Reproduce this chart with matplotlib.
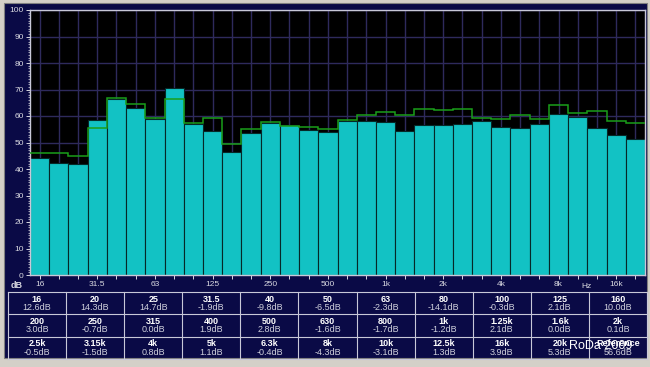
import numpy as np
import matplotlib
matplotlib.use('Agg')
import matplotlib.pyplot as plt
from matplotlib.patches import Rectangle

plt.rcParams['font.family'] = ['Liberation Sans', 'DejaVu Sans']

# 1/3 octave bands and data
bands = ['16', '20', '25', '31.5', '40', '50', '63', '80', '100', '125', '160',
         '200', '250', '315', '400', '500', '630', '800', '1k', '1.25k', '1.6k',
         '2k', '2.5k', '3.15k', '4k', '5k', '6.3k', '8k', '10k', '12.5k', '16k', '20k']
# correction per band from the table below the chart
corr_db = [12.6, 14.3, 14.7, -1.9, -9.8, -6.5, -2.3, -14.1, -0.3, 2.1, 10.0,
           3.0, -0.7, 0.0, 1.9, 2.8, -1.6, -1.7, -1.2, 2.1, 0.0,
           0.1, -0.5, -1.5, 0.8, 1.1, -0.4, -4.3, -3.1, 1.3, 3.9, 5.3]
ref_db = 56.6
# measured level (cyan bars)
level_db = [44.0, 42.3, 41.9, 58.5, 66.4, 63.1, 58.9, 70.7, 56.9, 54.5, 46.6,
            53.6, 57.3, 56.6, 54.7, 53.8, 58.2, 58.3, 57.8, 54.5, 56.6,
            56.5, 57.1, 58.1, 55.8, 55.5, 57.0, 60.9, 59.7, 55.3, 52.7, 51.3]
# previous measurement (green outline)
prev_db = [46.2, 45.9, 45.0, 55.5, 66.8, 64.6, 59.2, 66.5, 57.2, 59.1, 49.4,
           55.0, 57.6, 56.3, 55.8, 55.0, 58.5, 60.5, 61.5, 60.3, 62.5,
           62.1, 62.6, 59.2, 58.9, 60.3, 59.0, 64.0, 61.0, 62.0, 58.2, 57.2]
octave_labels = ['16', '31.5', '63', '125', '250', '500', '1k', '2k', '4k', '8k', '16k']

W, H = 650, 367
navy = '#0a0a46'
cyan = '#12c2c4'
green = '#1a9e1a'
gridc = '#2e2a5c'
txt = '#d8d8e0'

fig = plt.figure(figsize=(W / 100, H / 100), dpi=100)
fig.patch.set_facecolor('#d4d0c8')
fig.patches.append(Rectangle((4 / W, (H - 358) / H), 643 / W, 355 / H,
                             transform=fig.transFigure, facecolor=navy,
                             edgecolor='#808080', lw=0.8, zorder=-10))

# main chart
ax = fig.add_axes([30 / W, (H - 275) / H, 615 / W, 265 / H])
ax.set_facecolor('black')
x = np.arange(len(bands))
ax.bar(x, level_db, width=1.0, color=cyan, edgecolor='#062828', linewidth=0.8, zorder=2)
ax.stairs(prev_db, np.arange(len(bands) + 1) - 0.5, baseline=None,
          color=green, linewidth=1.1, zorder=3)
ax.set_xlim(-0.5, len(bands) - 0.5)
ax.set_ylim(0, 100)

ax.set_yticks(np.arange(0, 101, 10))
ax.set_yticks(np.arange(0, 101, 1), minor=True)
ax.set_xticks(x)
ax.set_xticklabels([b if b in octave_labels else '' for b in bands])
ax.tick_params(axis='both', colors=txt, labelsize=6, length=3, width=0.7, pad=1.5)
ax.tick_params(axis='y', which='minor', colors=txt, length=1.5, width=0.5)
ax.grid(True, which='major', color=gridc, linewidth=1, zorder=0)
ax.set_axisbelow(True)
for s in ax.spines.values():
    s.set_color('#c8c8d8')
    s.set_linewidth(1)

fig.text(17 / W, (H - 286) / H, 'dB', color=txt, fontsize=6.5, fontweight='bold',
         ha='center', va='center')
fig.text(586 / W, (H - 286) / H, 'Hz', color=txt, fontsize=6, ha='center', va='center')

# table of corrections
tab = fig.add_axes([8 / W, (H - 359) / H, 639 / W, 67 / H])
tab.set_xlim(0, 11)
tab.set_ylim(3, 0)
tab.axis('off')
names = bands + ['Reference']
vals = corr_db + [ref_db]
for r in range(4):
    tab.plot([0, 11], [r, r], color='#c8c8d8', lw=0.8, clip_on=False)
for c in range(12):
    tab.plot([c, c], [0, 3], color='#c8c8d8', lw=0.8, clip_on=False)
for i, (n, v) in enumerate(zip(names, vals)):
    r, c = divmod(i, 11)
    tab.text(c + 0.5, r + 0.32, n, color='white', fontsize=6.5, fontweight='bold',
             ha='center', va='center')
    tab.text(c + 0.5, r + 0.70, f'{v:.1f}dB', color='#cfd0dc', fontsize=6.5,
             ha='center', va='center')

# watermark sits on top of the last table cells
tab.text(601 / W, (H - 346) / H, 'RoDa 2009', color='white', fontsize=9,
         ha='center', va='center', transform=fig.transFigure, zorder=10)

fig.savefig('out.png', dpi=100, facecolor=fig.get_facecolor())
